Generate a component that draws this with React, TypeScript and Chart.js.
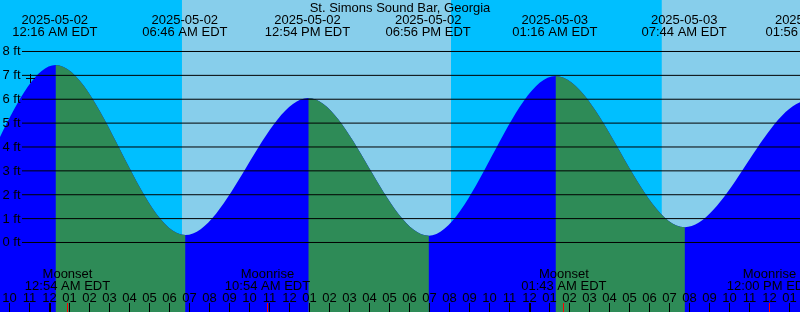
import React, { useEffect, useRef } from 'react';
import { Chart, registerables } from 'chart.js';

Chart.register(...registerables);

const TITLE = 'St. Simons Sound Bar, Georgia';

// Time axis: hours after 2025-05-02 00:00 EDT
const X_MIN = -2.475;
const X_MAX = 37.525;
const Y_MIN = -2.911;
const Y_MAX = 10.157;

// Tide extremes (feet), including the ones just beyond both edges
const tideTimes = [-12.4, -5.9, 0.3, 6.8, 12.94, 18.97, 25.3, 31.77, 37.97, 44.2];
const tideHeights = [6.3, 0.3, 7.43, 0.31, 6.05, 0.28, 6.97, 0.64, 5.95, 0.45];

// Labels at the top of the chart
const tideLabelTimes = [0.267, 6.767, 12.9, 18.933, 25.267, 31.733, 37.933];
const tideLabelDates = ['2025-05-02', '2025-05-02', '2025-05-02', '2025-05-02', '2025-05-03', '2025-05-03', '2025-05-03'];
const tideLabelClocks = ['12:16 AM EDT', '06:46 AM EDT', '12:54 PM EDT', '06:56 PM EDT', '01:16 AM EDT', '07:44 AM EDT', '01:56 PM EDT'];

// Sunrise / sunset
const sunTimes = [6.617, 20.083, 30.6];
const sunKinds = ['rise', 'set', 'rise'];

// Moon events
const moonTimes = [0.9, 10.9, 25.717, 36.0];
const moonNames = ['Moonset', 'Moonrise', 'Moonset', 'Moonrise'];
const moonClocks = ['12:54 AM EDT', '10:54 AM EDT', '01:43 AM EDT', '12:00 PM EDT'];

// Hour ticks along the bottom
const hourTimes = [-2, -1, 0, 1, 2, 3, 4, 5, 6, 7, 8, 9, 10, 11, 12, 13, 14, 15, 16, 17, 18, 19, 20, 21, 22, 23, 24, 25, 26, 27, 28, 29, 30, 31, 32, 33, 34, 35, 36, 37];
const hourLabels = ['10', '11', '12', '01', '02', '03', '04', '05', '06', '07', '08', '09', '10', '11', '12', '01', '02', '03', '04', '05', '06', '07', '08', '09', '10', '11', '12', '01', '02', '03', '04', '05', '06', '07', '08', '09', '10', '11', '12', '01'];
const midnightTimes = [0, 24];

// Depth reference lines
const depthLevels = [0, 1, 2, 3, 4, 5, 6, 7, 8];
const depthLabels = ['0 ft', '1 ft', '2 ft', '3 ft', '4 ft', '5 ft', '6 ft', '7 ft', '8 ft'];
const GRID_START = -1.375;

// Cross mark
const markTimes = [-0.95];
const markHeights = [6.87];

const NIGHT = '#00BFFF';
const DAY = '#87CEEB';
const RISE = '#0000FF';
const FALL = '#2E8B57';
const MARK = '#FF0000';
const CLEAR = 'rgba(0,0,0,0)';
const FONT = '13px "Liberation Sans", Arial, sans-serif';

const overlayPlugin = {
  id: 'tideOverlay',
  afterDatasetsDraw(chart: any) {
    const { ctx, chartArea } = chart;
    const xs = chart.scales.x;
    const ys = chart.scales.y;
    const top = chartArea.top;
    const bottom = chartArea.bottom;
    ctx.save();
    ctx.fillStyle = '#000';
    ctx.font = FONT;
    ctx.textBaseline = 'alphabetic';

    ctx.textAlign = 'center';
    ctx.fillText(TITLE, (chartArea.left + chartArea.right) / 2, top + 12);
    tideLabelTimes.forEach((t, i) => {
      const px = xs.getPixelForValue(t);
      ctx.fillText(tideLabelDates[i], px, top + 24);
      ctx.fillText(tideLabelClocks[i], px, top + 36);
    });

    moonTimes.forEach((t, i) => {
      const px = xs.getPixelForValue(t);
      ctx.fillText(moonNames[i], px, bottom - 34);
      ctx.fillText(moonClocks[i], px, bottom - 22);
    });

    hourTimes.forEach((t, i) => {
      const px = xs.getPixelForValue(t);
      ctx.fillText(hourLabels[i], px, bottom - 10);
    });

    ctx.textAlign = 'left';
    depthLevels.forEach((v, i) => {
      const py = ys.getPixelForValue(v);
      ctx.fillText(depthLabels[i], chartArea.left + 2.5, py + 4);
    });

    // tick marks
    ctx.fillStyle = '#000';
    hourTimes.forEach((t) => {
      const px = Math.floor(xs.getPixelForValue(t));
      ctx.fillRect(px, bottom - 9, 1, 9);
    });
    midnightTimes.forEach((t) => {
      const px = Math.round(xs.getPixelForValue(t));
      ctx.fillRect(px - 1, bottom - 9, 2, 9);
    });
    ctx.fillStyle = MARK;
    moonTimes.forEach((t) => {
      const px = Math.floor(xs.getPixelForValue(t));
      ctx.fillRect(px, bottom - 9, 1, 9);
    });
    ctx.restore();
  },
};

export default function App() {
  const ref = useRef<HTMLCanvasElement>(null);

  useEffect(() => {
    document.body.style.margin = '0';
    const canvas = ref.current;
    if (!canvas) return;

    const bgPoints = [X_MIN, ...sunTimes, X_MAX].map((t) => ({ x: t, y: Y_MAX }));
    const tidePoints = tideTimes.map((t, i) => ({ x: t, y: tideHeights[i] }));

    const gridSets = depthLevels.map((v) => ({
      type: 'line' as const,
      data: [
        { x: GRID_START, y: v },
        { x: X_MAX, y: v },
      ],
      borderColor: '#000000',
      borderWidth: 1,
      pointRadius: 0,
      fill: false,
      order: 2,
    }));

    const chart = new Chart(canvas, {
      type: 'line',
      data: {
        datasets: [
          {
            data: bgPoints,
            borderWidth: 0,
            borderColor: CLEAR,
            backgroundColor: NIGHT,
            pointRadius: 0,
            fill: 'start',
            order: 5,
            segment: {
              backgroundColor: (c: any) => {
                const i = c.p0DataIndex;
                if (i === 0) return sunKinds[0] === 'rise' ? NIGHT : DAY;
                return sunKinds[i - 1] === 'rise' ? DAY : NIGHT;
              },
            },
          } as any,
          // rising water (whole area), drawn first
          {
            data: tidePoints,
            borderWidth: 0,
            borderColor: CLEAR,
            backgroundColor: RISE,
            pointRadius: 0,
            fill: 'start',
            cubicInterpolationMode: 'monotone',
            order: 4,
          } as any,
          // falling water, painted over the falling stretches
          {
            data: tidePoints,
            borderWidth: 0,
            borderColor: CLEAR,
            backgroundColor: FALL,
            pointRadius: 0,
            fill: 'start',
            cubicInterpolationMode: 'monotone',
            order: 3,
            segment: {
              backgroundColor: (c: any) => (c.p1.parsed.y >= c.p0.parsed.y ? CLEAR : FALL),
            },
          } as any,
          ...gridSets,
          {
            data: markTimes.map((t, i) => ({ x: t, y: markHeights[i] })),
            showLine: false,
            pointStyle: 'cross',
            pointRadius: 4.5,
            pointHoverRadius: 4.5,
            borderColor: '#000000',
            borderWidth: 1,
            backgroundColor: '#000000',
            order: 1,
          } as any,
        ],
      },
      options: {
        responsive: false,
        animation: false,
        devicePixelRatio: 1,
        events: [],
        layout: { padding: 0, autoPadding: false },
        plugins: {
          legend: { display: false },
          tooltip: { enabled: false },
          title: { display: false },
        },
        scales: {
          x: { type: 'linear', min: X_MIN, max: X_MAX, display: false },
          y: { type: 'linear', min: Y_MIN, max: Y_MAX, display: false },
        },
      } as any,
      plugins: [overlayPlugin],
    });

    return () => chart.destroy();
  }, []);

  return (
    <canvas
      ref={ref}
      width={800}
      height={312}
      style={{ display: 'block', width: 800, height: 312, background: NIGHT }}
    />
  );
}
